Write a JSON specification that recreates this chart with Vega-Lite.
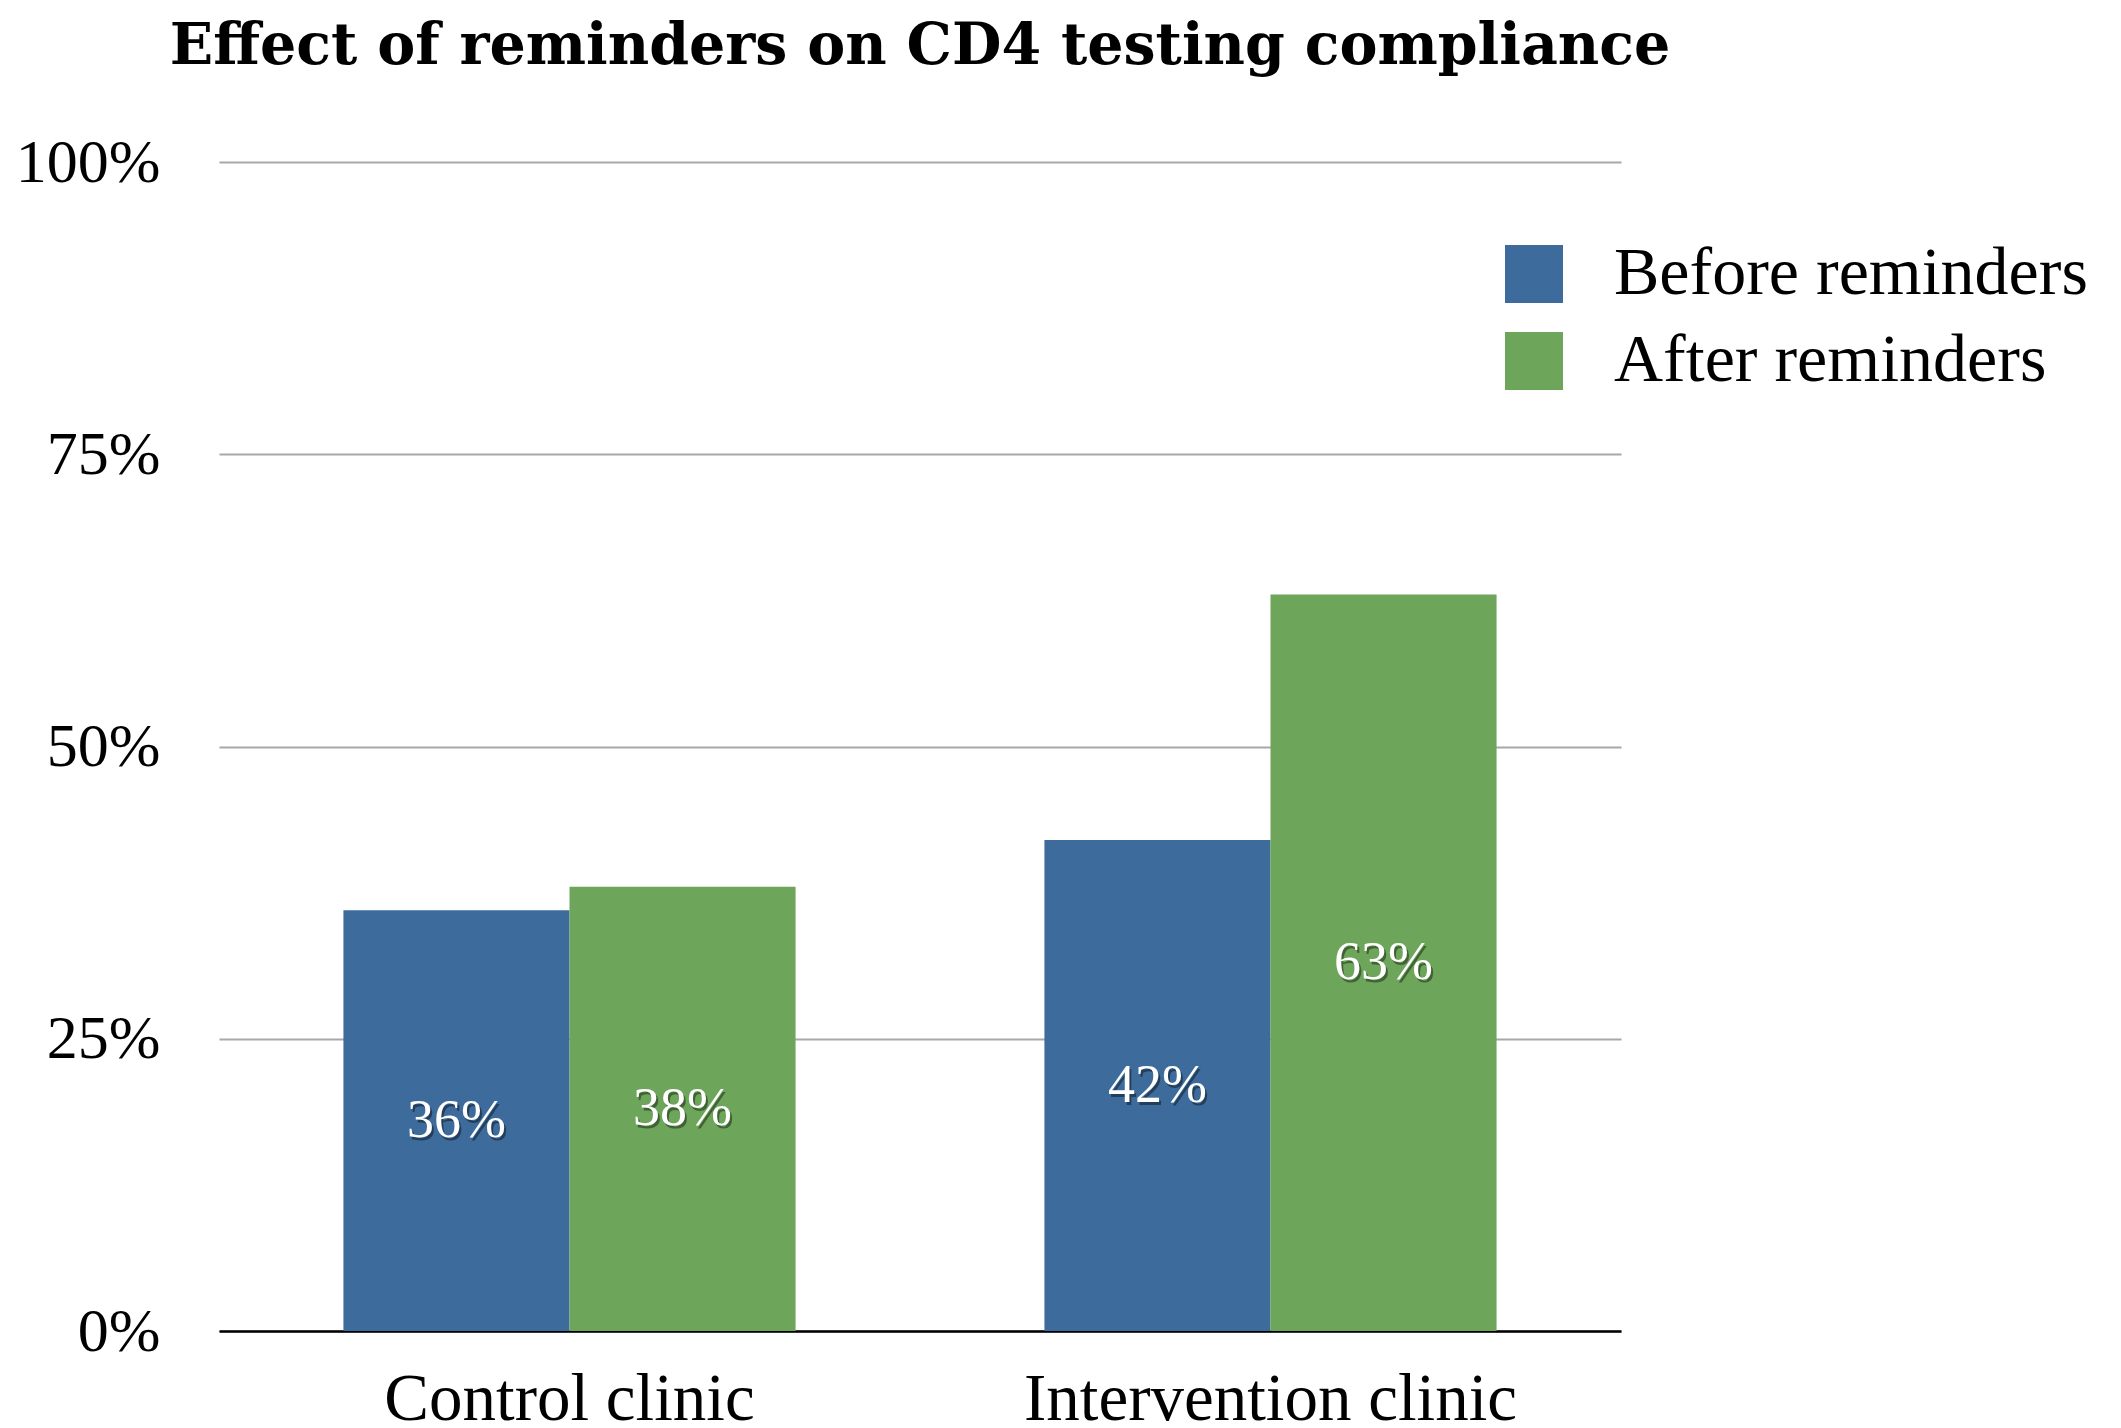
{
  "$schema": "https://vega.github.io/schema/vega-lite/v6.json",
  "width": 1402,
  "height": 1169,
  "autosize": {"type": "none"},
  "padding": {"left": 219, "top": 162, "right": 500, "bottom": 97},
  "background": "white",
  "config": {"view": {"stroke": null}},
  "title": {
    "text": "Effect of reminders on CD4 testing compliance",
    "font": "DejaVu Serif",
    "fontWeight": "bold",
    "fontSize": 57,
    "color": "black",
    "anchor": "middle",
    "frame": "group",
    "offset": 55
  },
  "data": {
    "values": [
      {"clinic": "Control clinic", "period": "Before reminders", "value": 0.36},
      {"clinic": "Control clinic", "period": "After reminders", "value": 0.38},
      {"clinic": "Intervention clinic", "period": "Before reminders", "value": 0.42},
      {"clinic": "Intervention clinic", "period": "After reminders", "value": 0.63}
    ]
  },
  "encoding": {
    "x": {
      "field": "clinic",
      "type": "nominal",
      "sort": ["Control clinic", "Intervention clinic"],
      "scale": {"paddingInner": 0.355, "paddingOuter": 0.1775},
      "axis": {
        "title": null,
        "labelAngle": 0,
        "labelFont": "Liberation Serif",
        "labelFontSize": 67,
        "labelColor": "black",
        "labelPadding": 35,
        "labelBaseline": "top",
        "labelLimit": 800,
        "ticks": false,
        "tickSize": 0,
        "domainColor": "black",
        "domainWidth": 2.5,
        "grid": false
      }
    },
    "xOffset": {
      "field": "period",
      "sort": ["Before reminders", "After reminders"],
      "scale": {"paddingInner": 0, "paddingOuter": 0}
    }
  },
  "layer": [
    {
      "mark": {"type": "bar"},
      "encoding": {
        "y": {
          "field": "value",
          "type": "quantitative",
          "scale": {"domain": [0, 1], "nice": false},
          "axis": {"title": null, "values": [0, 0.25, 0.5, 0.75, 1], "format": ".0%", "labelFont": "Liberation Serif", "labelFontSize": 62, "labelColor": "black", "labelPadding": 59, "ticks": false, "tickSize": 0, "domain": false, "grid": true, "gridColor": "#A8A8A8", "gridWidth": 2}
        },
        "color": {
          "field": "period",
          "type": "nominal",
          "sort": ["Before reminders", "After reminders"],
          "scale": {"domain": ["Before reminders", "After reminders"], "range": ["#3D6B9B", "#6DA55A"]},
          "legend": {
            "title": null,
            "orient": "none",
            "legendX": 1281,
            "legendY": 78,
            "padding": 0,
            "symbolType": "square",
            "symbolSize": 3364,
            "symbolStrokeWidth": 0,
            "symbolOpacity": 1,
            "labelFont": "Liberation Serif",
            "labelFontSize": 68,
            "labelColor": "black",
            "labelOffset": 46,
            "labelLimit": 800,
            "rowPadding": 19
          }
        }
      }
    },
    {
      "transform": [{"calculate": "datum.value/2", "as": "mid"}],
      "mark": {"type": "text", "font": "Liberation Serif", "fontSize": 54, "color": "black", "opacity": 0.4, "dx": 2, "dy": 3, "baseline": "middle"},
      "encoding": {
        "y": {
          "field": "mid",
          "type": "quantitative",
          "axis": {"title": null, "values": [0, 0.25, 0.5, 0.75, 1], "format": ".0%", "labelFont": "Liberation Serif", "labelFontSize": 62, "labelColor": "black", "labelPadding": 59, "ticks": false, "tickSize": 0, "domain": false, "grid": true, "gridColor": "#A8A8A8", "gridWidth": 2}
        },
        "text": {"field": "value", "type": "quantitative", "format": ".0%"}
      }
    },
    {
      "transform": [{"calculate": "datum.value/2", "as": "mid"}],
      "mark": {"type": "text", "font": "Liberation Serif", "fontSize": 54, "color": "white", "baseline": "middle"},
      "encoding": {
        "y": {
          "field": "mid",
          "type": "quantitative",
          "axis": {"title": null, "values": [0, 0.25, 0.5, 0.75, 1], "format": ".0%", "labelFont": "Liberation Serif", "labelFontSize": 62, "labelColor": "black", "labelPadding": 59, "ticks": false, "tickSize": 0, "domain": false, "grid": true, "gridColor": "#A8A8A8", "gridWidth": 2}
        },
        "text": {"field": "value", "type": "quantitative", "format": ".0%"}
      }
    }
  ]
}
